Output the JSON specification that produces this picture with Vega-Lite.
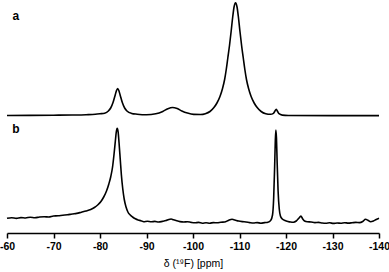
{
  "$schema": "https://vega.github.io/schema/vega-lite/v6.json",
  "width": 372,
  "height": 233,
  "autosize": {"type": "none"},
  "padding": {"left": 7, "top": 0, "right": 10, "bottom": 39},
  "background": "white",
  "config": {"view": {"stroke": null}, "font": "Liberation Sans"},
  "datasets": {
    "spectra": [
      {"series": "a", "ppm": -60, "v": 117.5},
      {"series": "a", "ppm": -65, "v": 117.6},
      {"series": "a", "ppm": -70, "v": 117.8},
      {"series": "a", "ppm": -74, "v": 118.0},
      {"series": "a", "ppm": -77, "v": 118.3},
      {"series": "a", "ppm": -79, "v": 118.7},
      {"series": "a", "ppm": -80, "v": 119.2},
      {"series": "a", "ppm": -81, "v": 119.8},
      {"series": "a", "ppm": -81.8, "v": 122.0},
      {"series": "a", "ppm": -82.3, "v": 125.0},
      {"series": "a", "ppm": -82.8, "v": 130.5},
      {"series": "a", "ppm": -83.3, "v": 138.5},
      {"series": "a", "ppm": -83.55, "v": 142.5},
      {"series": "a", "ppm": -83.8, "v": 144.5},
      {"series": "a", "ppm": -84.05, "v": 142.5},
      {"series": "a", "ppm": -84.3, "v": 138.5},
      {"series": "a", "ppm": -84.8, "v": 130.5},
      {"series": "a", "ppm": -85.3, "v": 125.0},
      {"series": "a", "ppm": -85.8, "v": 122.0},
      {"series": "a", "ppm": -86.8, "v": 119.6},
      {"series": "a", "ppm": -88, "v": 118.8},
      {"series": "a", "ppm": -90, "v": 118.2},
      {"series": "a", "ppm": -92, "v": 119.2},
      {"series": "a", "ppm": -93.5, "v": 121.6},
      {"series": "a", "ppm": -94.6, "v": 124.3},
      {"series": "a", "ppm": -95.6, "v": 125.5},
      {"series": "a", "ppm": -96.6, "v": 124.4},
      {"series": "a", "ppm": -97.6, "v": 122.0},
      {"series": "a", "ppm": -98.8, "v": 119.9},
      {"series": "a", "ppm": -100.15, "v": 118.6},
      {"series": "a", "ppm": -101.65, "v": 118.5},
      {"series": "a", "ppm": -102.65, "v": 119.3},
      {"series": "a", "ppm": -103.65, "v": 121.5},
      {"series": "a", "ppm": -104.5, "v": 125.5},
      {"series": "a", "ppm": -105.15, "v": 130.0},
      {"series": "a", "ppm": -105.8, "v": 136.5},
      {"series": "a", "ppm": -106.35, "v": 144.5},
      {"series": "a", "ppm": -106.8, "v": 153.5},
      {"series": "a", "ppm": -107.15, "v": 163.5},
      {"series": "a", "ppm": -107.5, "v": 175.5},
      {"series": "a", "ppm": -107.85, "v": 187.5},
      {"series": "a", "ppm": -108.2, "v": 201.5},
      {"series": "a", "ppm": -108.55, "v": 216.5},
      {"series": "a", "ppm": -108.85, "v": 226.5},
      {"series": "a", "ppm": -109.15, "v": 230.3},
      {"series": "a", "ppm": -109.45, "v": 226.5},
      {"series": "a", "ppm": -109.75, "v": 216.5},
      {"series": "a", "ppm": -110.1, "v": 201.5},
      {"series": "a", "ppm": -110.45, "v": 187.5},
      {"series": "a", "ppm": -110.8, "v": 175.5},
      {"series": "a", "ppm": -111.15, "v": 163.5},
      {"series": "a", "ppm": -111.5, "v": 153.5},
      {"series": "a", "ppm": -111.95, "v": 144.5},
      {"series": "a", "ppm": -112.5, "v": 136.5},
      {"series": "a", "ppm": -113.15, "v": 130.0},
      {"series": "a", "ppm": -113.8, "v": 125.5},
      {"series": "a", "ppm": -114.65, "v": 121.5},
      {"series": "a", "ppm": -115.65, "v": 119.3},
      {"series": "a", "ppm": -116.65, "v": 118.7},
      {"series": "a", "ppm": -117.3, "v": 119.7},
      {"series": "a", "ppm": -117.6, "v": 121.7},
      {"series": "a", "ppm": -117.9, "v": 123.8},
      {"series": "a", "ppm": -118.2, "v": 121.5},
      {"series": "a", "ppm": -118.5, "v": 119.3},
      {"series": "a", "ppm": -119.2, "v": 117.9},
      {"series": "a", "ppm": -120.5, "v": 117.5},
      {"series": "a", "ppm": -130, "v": 117.4},
      {"series": "a", "ppm": -140, "v": 117.4},
      {"series": "b", "ppm": -60, "v": 14.7},
      {"series": "b", "ppm": -61, "v": 15.3},
      {"series": "b", "ppm": -62, "v": 14.6},
      {"series": "b", "ppm": -63, "v": 15.4},
      {"series": "b", "ppm": -64, "v": 15.0},
      {"series": "b", "ppm": -65, "v": 15.8},
      {"series": "b", "ppm": -66, "v": 15.2},
      {"series": "b", "ppm": -67, "v": 16.0},
      {"series": "b", "ppm": -68, "v": 16.3},
      {"series": "b", "ppm": -69, "v": 16.0},
      {"series": "b", "ppm": -70, "v": 17.0},
      {"series": "b", "ppm": -71, "v": 17.2},
      {"series": "b", "ppm": -72, "v": 17.8},
      {"series": "b", "ppm": -73, "v": 18.2},
      {"series": "b", "ppm": -74, "v": 19.0},
      {"series": "b", "ppm": -75, "v": 19.6},
      {"series": "b", "ppm": -76, "v": 20.8},
      {"series": "b", "ppm": -77, "v": 22.0},
      {"series": "b", "ppm": -78, "v": 23.5},
      {"series": "b", "ppm": -78.8, "v": 25.5},
      {"series": "b", "ppm": -79.5, "v": 28.0},
      {"series": "b", "ppm": -80.2, "v": 31.5},
      {"series": "b", "ppm": -80.8, "v": 36.0},
      {"series": "b", "ppm": -81.4, "v": 42.0},
      {"series": "b", "ppm": -81.9, "v": 49.0},
      {"series": "b", "ppm": -82.3, "v": 56.0},
      {"series": "b", "ppm": -82.7, "v": 66.0},
      {"series": "b", "ppm": -83.0, "v": 78.0},
      {"series": "b", "ppm": -83.3, "v": 92.0},
      {"series": "b", "ppm": -83.5, "v": 101.0},
      {"series": "b", "ppm": -83.7, "v": 104.7},
      {"series": "b", "ppm": -83.9, "v": 101.0},
      {"series": "b", "ppm": -84.1, "v": 90.0},
      {"series": "b", "ppm": -84.35, "v": 74.0},
      {"series": "b", "ppm": -84.6, "v": 58.0},
      {"series": "b", "ppm": -84.9, "v": 44.0},
      {"series": "b", "ppm": -85.2, "v": 34.0},
      {"series": "b", "ppm": -85.6, "v": 26.0},
      {"series": "b", "ppm": -86.0, "v": 21.0},
      {"series": "b", "ppm": -86.5, "v": 18.0},
      {"series": "b", "ppm": -87.0, "v": 16.0},
      {"series": "b", "ppm": -87.6, "v": 14.2},
      {"series": "b", "ppm": -88.2, "v": 13.0},
      {"series": "b", "ppm": -88.8, "v": 12.3},
      {"series": "b", "ppm": -89.4, "v": 11.3},
      {"series": "b", "ppm": -90.2, "v": 11.8},
      {"series": "b", "ppm": -91, "v": 11.2},
      {"series": "b", "ppm": -91.8, "v": 11.6},
      {"series": "b", "ppm": -92.6, "v": 11.0},
      {"series": "b", "ppm": -93.4, "v": 11.6},
      {"series": "b", "ppm": -94.2, "v": 12.4},
      {"series": "b", "ppm": -94.8, "v": 13.6},
      {"series": "b", "ppm": -95.3, "v": 14.0},
      {"series": "b", "ppm": -95.8, "v": 13.2},
      {"series": "b", "ppm": -96.5, "v": 12.2},
      {"series": "b", "ppm": -97.2, "v": 11.4},
      {"series": "b", "ppm": -98, "v": 11.0},
      {"series": "b", "ppm": -98.8, "v": 11.3},
      {"series": "b", "ppm": -99.6, "v": 10.6},
      {"series": "b", "ppm": -100.4, "v": 10.2},
      {"series": "b", "ppm": -101.2, "v": 10.6},
      {"series": "b", "ppm": -102, "v": 9.8},
      {"series": "b", "ppm": -102.8, "v": 10.2},
      {"series": "b", "ppm": -103.6, "v": 9.8},
      {"series": "b", "ppm": -104.4, "v": 10.4},
      {"series": "b", "ppm": -105.2, "v": 10.2},
      {"series": "b", "ppm": -106, "v": 10.8},
      {"series": "b", "ppm": -106.8, "v": 11.0},
      {"series": "b", "ppm": -107.6, "v": 12.6},
      {"series": "b", "ppm": -108.4, "v": 13.7},
      {"series": "b", "ppm": -109.0, "v": 13.0},
      {"series": "b", "ppm": -109.8, "v": 12.0},
      {"series": "b", "ppm": -110.6, "v": 11.4},
      {"series": "b", "ppm": -111.4, "v": 11.0},
      {"series": "b", "ppm": -112.2, "v": 10.4},
      {"series": "b", "ppm": -113, "v": 10.0},
      {"series": "b", "ppm": -113.8, "v": 10.4},
      {"series": "b", "ppm": -114.6, "v": 9.8},
      {"series": "b", "ppm": -115.4, "v": 10.4},
      {"series": "b", "ppm": -116.1, "v": 10.8},
      {"series": "b", "ppm": -116.7, "v": 12.5},
      {"series": "b", "ppm": -117.1, "v": 18.0},
      {"series": "b", "ppm": -117.35, "v": 35.0},
      {"series": "b", "ppm": -117.55, "v": 65.0},
      {"series": "b", "ppm": -117.7, "v": 92.0},
      {"series": "b", "ppm": -117.82, "v": 103.0},
      {"series": "b", "ppm": -117.95, "v": 95.0},
      {"series": "b", "ppm": -118.1, "v": 70.0},
      {"series": "b", "ppm": -118.3, "v": 42.0},
      {"series": "b", "ppm": -118.55, "v": 24.0},
      {"series": "b", "ppm": -118.8, "v": 17.0},
      {"series": "b", "ppm": -119.2, "v": 14.0},
      {"series": "b", "ppm": -119.8, "v": 12.5},
      {"series": "b", "ppm": -120.4, "v": 11.6},
      {"series": "b", "ppm": -121, "v": 11.0},
      {"series": "b", "ppm": -121.6, "v": 10.8},
      {"series": "b", "ppm": -122.2, "v": 12.0},
      {"series": "b", "ppm": -122.8, "v": 15.0},
      {"series": "b", "ppm": -123.2, "v": 17.0},
      {"series": "b", "ppm": -123.6, "v": 14.0},
      {"series": "b", "ppm": -124.0, "v": 12.0},
      {"series": "b", "ppm": -124.6, "v": 11.2},
      {"series": "b", "ppm": -125.4, "v": 11.0},
      {"series": "b", "ppm": -126.2, "v": 10.4},
      {"series": "b", "ppm": -127, "v": 10.6},
      {"series": "b", "ppm": -127.8, "v": 10.0},
      {"series": "b", "ppm": -128.6, "v": 9.8},
      {"series": "b", "ppm": -129.4, "v": 10.2},
      {"series": "b", "ppm": -130.2, "v": 9.6},
      {"series": "b", "ppm": -131, "v": 10.0},
      {"series": "b", "ppm": -131.8, "v": 9.8},
      {"series": "b", "ppm": -132.6, "v": 10.3},
      {"series": "b", "ppm": -133.4, "v": 9.9},
      {"series": "b", "ppm": -134.2, "v": 10.2},
      {"series": "b", "ppm": -135, "v": 10.6},
      {"series": "b", "ppm": -135.8, "v": 10.4},
      {"series": "b", "ppm": -136.5, "v": 11.5},
      {"series": "b", "ppm": -137.1, "v": 13.7},
      {"series": "b", "ppm": -137.6, "v": 12.8},
      {"series": "b", "ppm": -138.2, "v": 11.3},
      {"series": "b", "ppm": -138.8, "v": 12.0},
      {"series": "b", "ppm": -139.4, "v": 13.5},
      {"series": "b", "ppm": -140, "v": 14.7}
    ],
    "labels": [
      {"label": "a", "ppm": -61.9, "v": 217},
      {"label": "b", "ppm": -61.9, "v": 104}
    ]
  },
  "layer": [
    {
      "data": {"name": "spectra"},
      "mark": {"type": "line", "color": "black", "strokeWidth": 1.6, "interpolate": "monotone"},
      "encoding": {
        "x": {
          "field": "ppm",
          "type": "quantitative",
          "scale": {"domain": [-140, -60], "reverse": true, "nice": false, "zero": false},
          "axis": {
            "values": [-60, -65, -70, -75, -80, -85, -90, -95, -100, -105, -110, -115, -120, -125, -130, -135, -140],
            "labelExpr": "datum.value % 10 === 0 ? '' + datum.value : ''",
            "tickSize": {"condition": {"test": "datum.value % 10 === 0", "value": 5}, "value": 3},
            "grid": false,
            "domainColor": "black",
            "domainWidth": 1.5,
            "tickColor": "black",
            "tickWidth": 1.5,
            "labelColor": "black",
            "labelFont": "Liberation Sans",
            "labelFontSize": 10.5,
            "labelFontWeight": "bold",
            "labelPadding": 3,
            "labelFlush": false,
            "labelOverlap": false,
            "title": "δ (¹⁹F) [ppm]",
            "titleFont": "Liberation Sans",
            "titleFontSize": 10.5,
            "titleFontWeight": "normal",
            "titleColor": "black",
            "titlePadding": 7
          }
        },
        "y": {
          "field": "v",
          "type": "quantitative",
          "scale": {"domain": [0, 233], "zero": false, "nice": false},
          "axis": null
        },
        "detail": {"field": "series"}
      }
    },
    {
      "data": {"name": "labels"},
      "mark": {"type": "text", "fontWeight": "bold", "fontSize": 12, "font": "Liberation Sans", "color": "black", "baseline": "middle", "align": "center"},
      "encoding": {
        "x": {"field": "ppm", "type": "quantitative"},
        "y": {"field": "v", "type": "quantitative"},
        "text": {"field": "label"}
      }
    }
  ]
}
